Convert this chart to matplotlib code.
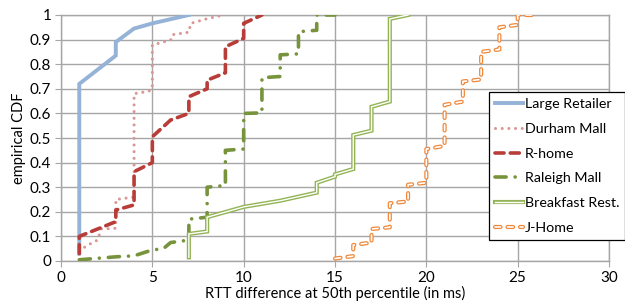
import matplotlib
matplotlib.use("Agg")
import matplotlib.pyplot as plt

plt.rcParams["font.family"] = ["Lato", "DejaVu Sans"]
plt.rcParams["lines.scale_dashes"] = False

# --- data (x in ms, y = empirical CDF) ---
retail_x = [1, 1, 3, 3, 4, 5, 7]
retail_y = [0.03, 0.72, 0.835, 0.89, 0.945, 0.966, 1.0]

durham_x = [1, 1.4, 2.0, 2.2, 3, 3, 4, 4, 4.8, 5, 5, 6, 6.1, 7, 7.1, 8, 8.9]
durham_y = [0.04, 0.062, 0.085, 0.13, 0.133, 0.25, 0.26, 0.68, 0.69, 0.70,
            0.878, 0.898, 0.92, 0.93, 0.966, 0.985, 1.0]

rhome_x = [1, 1, 3, 3, 4, 4, 5, 5, 6, 7, 7, 8, 8, 9, 9, 10, 10, 11]
rhome_y = [0.03, 0.10, 0.16, 0.207, 0.228, 0.363, 0.40, 0.505, 0.573, 0.60,
           0.668, 0.70, 0.735, 0.765, 0.871, 0.905, 0.966, 1.0]

raleigh_x = [1, 2, 3, 4, 5, 5.6, 6, 7, 7, 8, 8, 9, 9, 10, 10, 11, 11,
             12, 12, 13, 13, 14, 14, 15]
raleigh_y = [0.005, 0.011, 0.017, 0.021, 0.045, 0.05, 0.075, 0.085, 0.17,
             0.178, 0.30, 0.307, 0.45, 0.455, 0.60, 0.602, 0.745, 0.75,
             0.838, 0.842, 0.932, 0.938, 1.0, 1.0]

breakfast_x = [7, 7, 8, 8, 10, 12, 14, 14, 15, 15, 16, 16, 17, 17, 18, 18, 19]
breakfast_y = [0.015, 0.11, 0.12, 0.178, 0.22, 0.245, 0.278, 0.318, 0.343,
               0.352, 0.374, 0.512, 0.53, 0.627, 0.648, 0.984, 1.0]

jhome_x = [15, 16, 16, 17, 17, 18, 18, 19, 19, 20, 20, 21, 21, 22, 22,
           23, 23, 24, 24, 25, 25, 26]
jhome_y = [0.01, 0.02, 0.065, 0.075, 0.13, 0.137, 0.235, 0.242, 0.31, 0.318,
           0.455, 0.468, 0.635, 0.648, 0.73, 0.738, 0.85, 0.86, 0.95, 0.96,
           1.0, 1.0]

x_ticks = [0, 5, 10, 15, 20, 25, 30]
y_ticks = [0, 0.1, 0.2, 0.3, 0.4, 0.5, 0.6, 0.7, 0.8, 0.9, 1.0]
y_tick_labels = ["0", "0.1", "0.2", "0.3", "0.4", "0.5", "0.6", "0.7",
                 "0.8", "0.9", "1"]

fig = plt.figure(figsize=(6.25, 3.08), dpi=100)
ax = fig.add_axes([61 / 625, 1 - 261 / 308, 548 / 625, 246 / 308])

ax.plot(retail_x, retail_y, color="#95b3d7", lw=2.8,
        solid_joinstyle="miter", label="Large Retailer", zorder=3)
ax.plot(durham_x, durham_y, color="#d99694", lw=2.2, dashes=(0.01, 4.8),
        dash_capstyle="round", label="Durham Mall", zorder=3)
ax.plot(rhome_x, rhome_y, color="#b83c38", lw=2.6, dashes=(6.5, 4.5),
        dash_capstyle="round", label="R-home", zorder=3)
ax.plot(raleigh_x, raleigh_y, color="#77933c", lw=2.6,
        dashes=(8, 6.5, 0.01, 6.5), dash_capstyle="round",
        label="Raleigh Mall", zorder=3)
(bf_outer,) = ax.plot(breakfast_x, breakfast_y, color="#93b455", lw=3.0,
                      solid_joinstyle="miter", zorder=3)
(bf_inner,) = ax.plot(breakfast_x, breakfast_y, color="white", lw=1.0,
                      solid_joinstyle="miter", zorder=4)
(jh_outer,) = ax.plot(jhome_x, jhome_y, color="#f0883a", lw=3.0,
                      dashes=(4, 5), dash_capstyle="round", zorder=3)
(jh_inner,) = ax.plot(jhome_x, jhome_y, color="white", lw=1.2,
                      dashes=(4, 5), dash_capstyle="round", zorder=4)

ax.set_xlim(0, 30)
ax.set_ylim(0, 1)
ax.set_xticks(x_ticks)
ax.set_yticks(y_ticks)
ax.set_yticklabels(y_tick_labels)
ax.grid(True, color="#a6a6a6", lw=1.0)
ax.set_axisbelow(True)
for s in ax.spines.values():
    s.set_color("#a6a6a6")
    s.set_linewidth(1.0)
ax.tick_params(axis="both", direction="out", length=4, color="#a6a6a6",
               labelsize=11, pad=3)
ax.set_xlabel("RTT difference at 50th percentile (in ms)", fontsize=10.5,
              labelpad=1)
ax.set_ylabel("empirical CDF", fontsize=10.5, labelpad=3)

handles, labels = ax.get_legend_handles_labels()
handles += [(bf_outer, bf_inner), (jh_outer, jh_inner)]
labels += ["Breakfast Rest.", "J-Home"]
leg = fig.legend(handles, labels, loc="upper left",
                 bbox_to_anchor=(489 / 625, 1 - 92 / 308),
                 fontsize=10.3, frameon=True, fancybox=False,
                 edgecolor="black", framealpha=1, borderpad=0.4,
                 handlelength=2.0, handletextpad=0.1, labelspacing=0.9,
                 borderaxespad=0)
leg.get_frame().set_linewidth(0.9)

fig.savefig("out.png", dpi=100)
